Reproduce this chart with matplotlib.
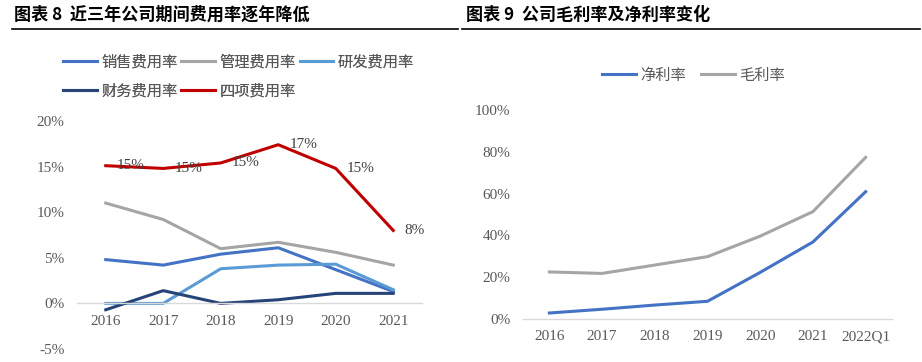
import matplotlib
matplotlib.use('Agg')
import matplotlib.pyplot as plt
from matplotlib.lines import Line2D
from matplotlib.ticker import FuncFormatter

plt.rcParams['font.family'] = ['Noto Sans CJK SC', 'DejaVu Sans']

# 图表8 数据
years_l = ['2016', '2017', '2018', '2019', '2020', '2021']
sale = [4.8, 4.2, 5.4, 6.1, 3.7, 1.3]
admin = [11.0, 9.2, 6.0, 6.7, 5.6, 4.2]
rnd = [0.0, 0.0, 3.8, 4.2, 4.3, 1.5]
fin = [-0.7, 1.4, 0.0, 0.4, 1.1, 1.1]
total = [15.1, 14.8, 15.4, 17.4, 14.8, 8.0]
total_lbl = ['15%', '15%', '15%', '17%', '15%', '8%']

# 图表9 数据
years_r = ['2016', '2017', '2018', '2019', '2020', '2021', '2022Q1']
net = [3.0, 4.8, 6.8, 8.6, 22.4, 36.9, 60.9]
gross = [22.6, 21.9, 25.9, 29.9, 39.7, 51.4, 77.3]

c_sale, c_admin, c_rnd, c_fin, c_tot = '#4472C4', '#A5A5A5', '#5B9BD5', '#264478', '#C00000'
tick_c = '#595959'
serif = 'Liberation Serif'

fig = plt.figure(figsize=(9.22, 3.62), dpi=100)

# titles and rules
fig.text(14/922, 1-15/362, '图表 8  近三年公司期间费用率逐年降低', fontsize=12.3, fontweight='bold', va='center')
fig.text(466/922, 1-15/362, '图表 9  公司毛利率及净利率变化', fontsize=12.3, fontweight='bold', va='center')
fig.add_artist(Line2D([12/922, 458/922], [1-29/362]*2, color='black', lw=1.2))
fig.add_artist(Line2D([462/922, 920/922], [1-29/362]*2, color='black', lw=1.2))

pct = FuncFormatter(lambda v, p: '%d%%' % v)

def style(ax):
    for s in ['top', 'right', 'left']:
        ax.spines[s].set_visible(False)
    ax.spines['bottom'].set_position(('data', 0))
    ax.spines['bottom'].set_color('#D9D9D9')
    ax.spines['bottom'].set_linewidth(1)
    ax.tick_params(axis='both', length=0, labelsize=11, labelcolor=tick_c)
    ax.tick_params(axis='y', pad=9)
    ax.tick_params(axis='x', pad=8)
    ax.yaxis.set_major_formatter(pct)
    for t in ax.get_xticklabels() + ax.get_yticklabels():
        t.set_fontfamily(serif)
    ax.patch.set_alpha(0)

# left chart
ax1 = fig.add_axes([77/922, 13/362, 345/922, 228/362])
x = range(len(years_l))
lw = 2.2
ax1.plot(x, sale, color=c_sale, lw=lw)
ax1.plot(x, admin, color=c_admin, lw=lw)
ax1.plot(x, rnd, color=c_rnd, lw=lw)
ax1.plot(x, fin, color=c_fin, lw=lw)
ax1.plot(x, total, color=c_tot, lw=lw)
for i, (v, s) in enumerate(zip(total, total_lbl)):
    ax1.annotate(s, (i, v), xytext=(8, 0), textcoords='offset points', ha='left', va='center',
                 fontsize=11, color='#404040', family=serif)
ax1.set_xlim(-0.5, len(years_l) - 0.5)
ax1.set_ylim(-5, 20)
ax1.set_yticks([-5, 0, 5, 10, 15, 20])
ax1.set_xticks(list(x))
ax1.set_xticklabels(years_l)
style(ax1)

h1 = [Line2D([], [], color=c, lw=2.2) for c in [c_sale, c_admin, c_rnd, c_fin, c_tot]]
l1 = ['销售费用率', '管理费用率', '研发费用率', '财务费用率', '四项费用率']
leg_kw = dict(frameon=False, fontsize=11, handlelength=2.2, handletextpad=0.3, columnspacing=0.25)
for row, idx in [(62, [0, 1, 2]), (91, [3, 4])]:
    lg = fig.legend([h1[i] for i in idx], [l1[i] for i in idx], ncol=len(idx),
                    loc='center left', bbox_to_anchor=(57/922, 1-row/362), borderaxespad=0, **leg_kw)
    for t in lg.get_texts():
        t.set_color(tick_c)
    fig.add_artist(lg)

# right chart
ax2 = fig.add_axes([523/922, 42.7/362, 369/922, 209.5/362])
xr = range(len(years_r))
ax2.plot(xr, net, color=c_sale, lw=lw)
ax2.plot(xr, gross, color=c_admin, lw=lw)
ax2.set_xlim(-0.5, len(years_r) - 0.5)
ax2.set_ylim(0, 100)
ax2.set_yticks([0, 20, 40, 60, 80, 100])
ax2.set_xticks(list(xr))
ax2.set_xticklabels(years_r)
style(ax2)

lg2 = fig.legend([Line2D([], [], color=c_sale, lw=2.2), Line2D([], [], color=c_admin, lw=2.2)],
                 ['净利率', '毛利率'], ncol=2, loc='center left',
                 bbox_to_anchor=(596/922, 1-75/362), borderaxespad=0,
                 frameon=False, fontsize=11, handlelength=2.2, handletextpad=0.3, columnspacing=1.0)
for t in lg2.get_texts():
    t.set_color(tick_c)

fig.savefig('out.png', dpi=100)
